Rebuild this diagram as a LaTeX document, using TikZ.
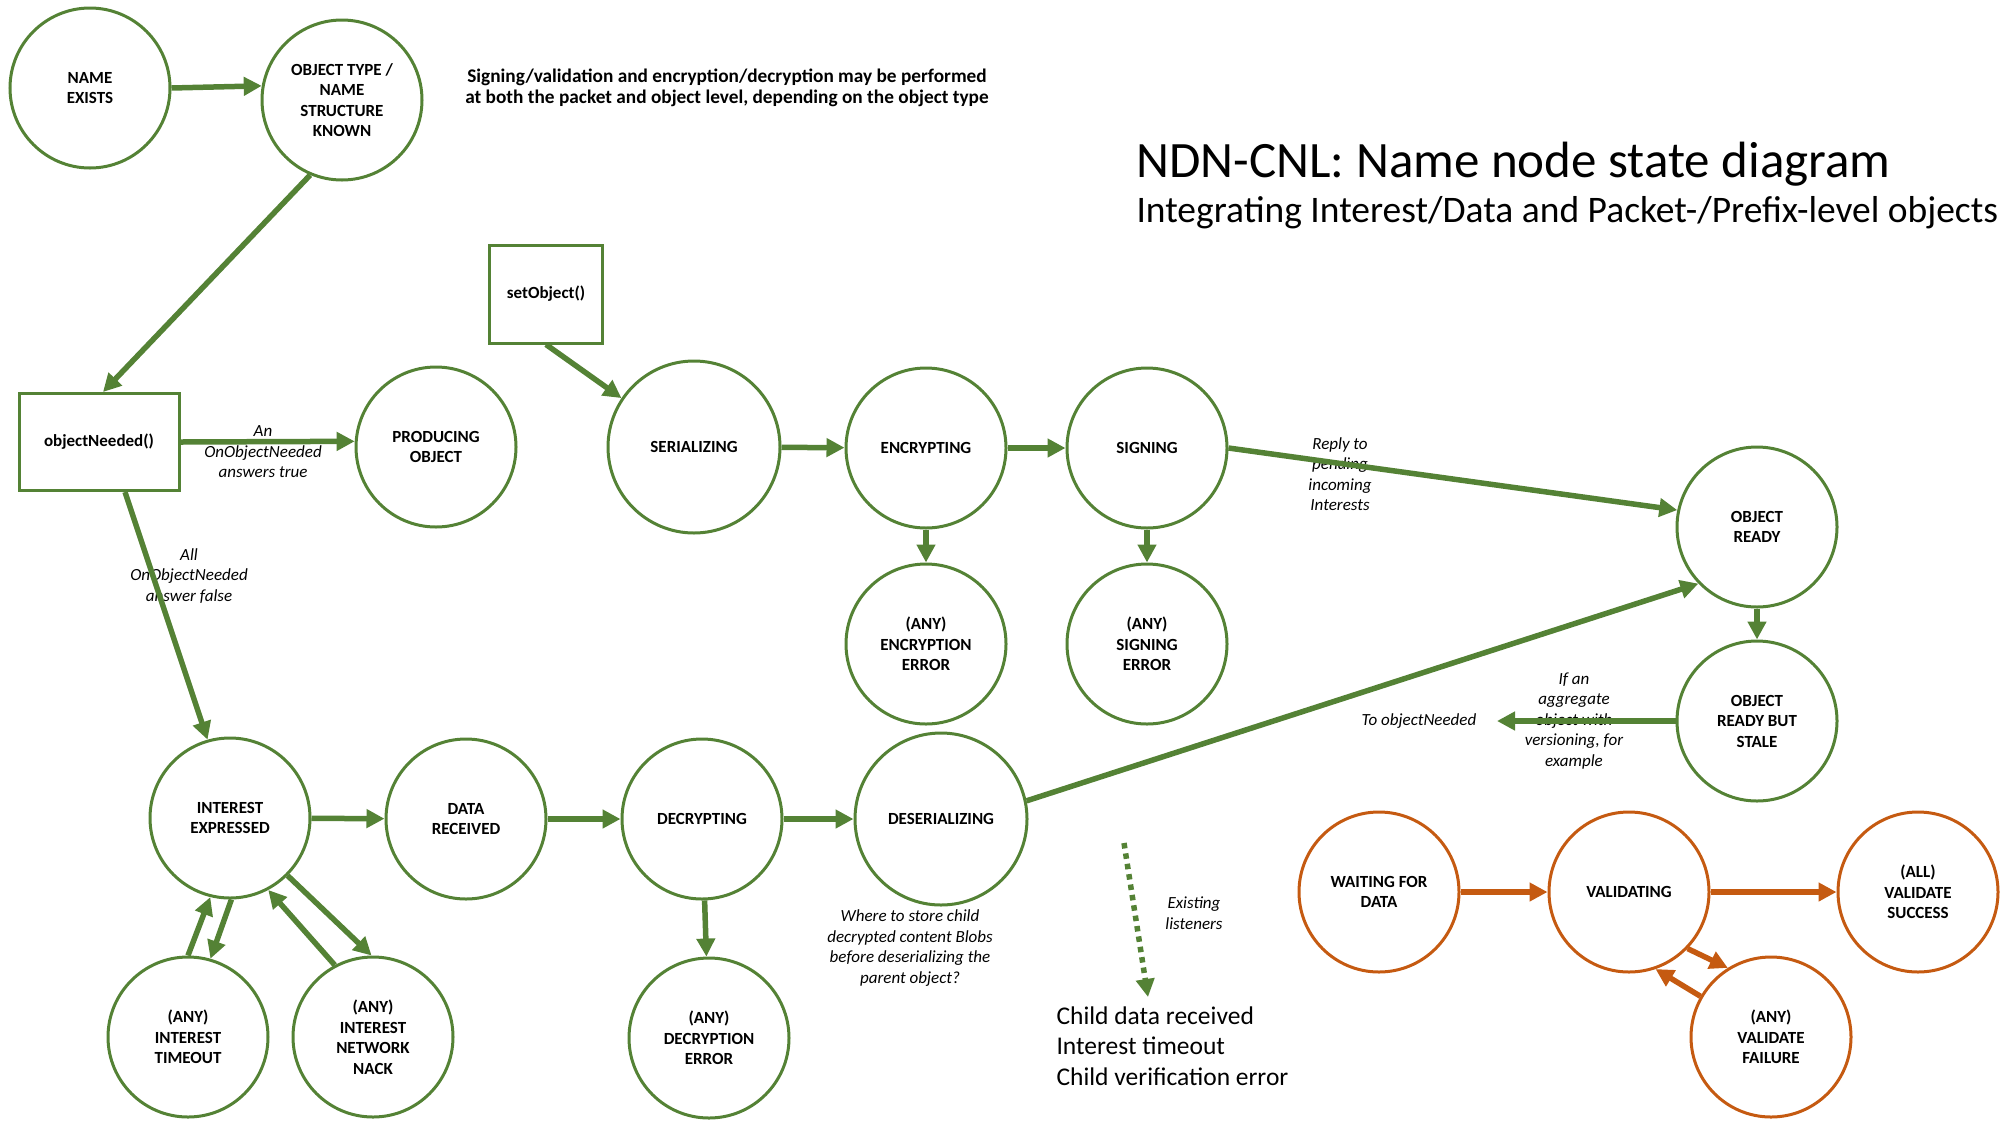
\documentclass[tikz,border=0pt]{standalone}
\usepackage{fontspec}
\setmainfont{Carlito}
\usetikzlibrary{arrows.meta}
\definecolor{grn}{HTML}{548235}
\definecolor{org}{HTML}{C55A11}
\tikzset{
  st/.style={circle, draw=grn, line width=3pt, minimum size=160pt, inner sep=0pt, align=center,
    font=\bfseries\fontsize{17}{20.5}\selectfont},
  bigst/.style={st, minimum size=172pt},
  ost/.style={st, draw=org},
  boxst/.style={rectangle, draw=grn, line width=3pt, inner sep=0pt, align=center,
    font=\bfseries\fontsize{17}{20}\selectfont},
  arr/.style={draw=grn, line width=5.5pt, -{Triangle[length=18pt,width=18pt]}},
  oarr/.style={arr, draw=org},
  darr/.style={arr, dash pattern=on 5.5pt off 5pt},
  lbl/.style={align=center, font=\itshape\fontsize{17}{20.5}\selectfont},
}
\begin{document}
\begin{tikzpicture}[x=1pt,y=-1pt]
\useasboundingbox (0,0) rectangle (2015,1120);

% states
\node[st] (ne) at (90,88) {NAME\\EXISTS};
\node[st] (ot) at (342,100) {OBJECT TYPE /\\NAME\\STRUCTURE\\KNOWN};
\node[boxst, minimum width=113pt, minimum height=98pt] (so) at (546,294) {setObject()};
\node[boxst, minimum width=160pt, minimum height=97pt] (on) at (99,442) {objectNeeded()};
\node[st] (po) at (436,447) {PRODUCING\\OBJECT};
\node[bigst] (ser) at (694,447) {SERIALIZING};
\node[st] (enc) at (926,448) {ENCRYPTING};
\node[st] (sig) at (1147,448) {SIGNING};
\node[st] (encerr) at (926,644) {(ANY)\\ENCRYPTION\\ERROR};
\node[st] (sigerr) at (1147,644) {(ANY)\\SIGNING\\ERROR};
\node[st] (or) at (1757,527) {OBJECT\\READY};
\node[st] (stale) at (1757,721) {OBJECT\\READY BUT\\STALE};
\node[st] (ie) at (230,818) {INTEREST\\EXPRESSED};
\node[st] (dr) at (466,819) {DATA\\RECEIVED};
\node[st] (dec) at (702,819) {DECRYPTING};
\node[bigst] (des) at (941,819) {DESERIALIZING};
\node[st] (to) at (188,1037) {(ANY)\\INTEREST\\TIMEOUT};
\node[st] (nack) at (373,1037) {(ANY)\\INTEREST\\NETWORK\\NACK};
\node[st] (decerr) at (709,1038) {(ANY)\\DECRYPTION\\ERROR};
\node[ost] (wfd) at (1379,892) {WAITING FOR\\DATA};
\node[ost] (val) at (1629,892) {VALIDATING};
\node[ost] (succ) at (1918,892) {(ALL)\\VALIDATE\\SUCCESS};
\node[ost] (fail) at (1771,1037) {(ANY)\\VALIDATE\\FAILURE};

% texts
\node[align=center, font=\bfseries\fontsize{19.3}{21.5}\selectfont] (note) at (727,88)
  {Signing/validation and encryption/decryption may be performed\\at both the packet and object level, depending on the object type};
\node[anchor=base west, font=\fontsize{51}{60}\selectfont] (title) at (1133,177) {NDN-CNL: Name node state diagram};
\node[anchor=base west, font=\fontsize{37.5}{44}\selectfont] (subtitle) at (1133,222) {Integrating Interest/Data and Packet-/Prefix-level objects};
\node[lbl] (l1) at (263,452) {An\\OnObjectNeeded\\answers true};
\node[lbl] (l2) at (189,576) {All\\OnObjectNeeded\\answer false};
\node[lbl] (l3) at (1340,474) {Reply to\\pending\\incoming\\Interests};
\node[lbl] (l4) at (1574,721) {If an\\aggregate\\object with\\versioning, for\\example};
\node[lbl] (l5) at (1419,721) {To objectNeeded};
\node[lbl] (l6) at (1194,913) {Existing\\listeners};
\node[lbl] (l7) at (910,948) {Where to store child\\decrypted content Blobs\\before deserializing the\\parent object?};
\node[anchor=west, align=left, font=\fontsize{25.5}{30.5}\selectfont] (child) at (1053,1046)
  {Child data received\\Interest timeout\\Child verification error};

% connectors
\draw[arr] (ne.east) -- (ot.170);
\draw[arr] (ot.247) -- ([xshift=4pt]on.north);
\draw[arr] (on.east) -- (po.176);
\draw[arr] ([xshift=26pt]on.south) -- (ie.106);
\draw[arr] (so.south) -- (ser.146);
\draw[arr] (ser) -- (enc);
\draw[arr] (enc) -- (sig);
\draw[arr] (enc) -- (encerr);
\draw[arr] (sig) -- (sigerr);
\draw[arr] (sig.east) -- (or.168);
\draw[arr] (or) -- (stale);
\coordinate (toon) at (1497,721);
\draw[arr] (stale.west) -- (toon);
\draw[arr] (des.12) -- (or.224);
\draw[arr] (ie) -- (dr);
\draw[arr] (dr) -- (dec);
\draw[arr] (dec) -- (des);
\draw[arr] (dec) -- (decerr);
\draw[arr] (to.90) -- (ie.256);
\draw[arr] (ie.271) -- (to.74);
\draw[arr] (ie.315) -- (nack.91);
\draw[arr] (nack.118) -- (ie.298);
\coordinate (dA) at (1124,843);
\coordinate (dB) at (1148,997);
\draw[darr] (dA) -- (dB);
\draw[oarr] (wfd) -- (val);
\draw[oarr] (val) -- (succ);
\draw[oarr] (val.316) -- (fail.122);
\draw[oarr] (fail.150) -- (val.289);
\end{tikzpicture}
\end{document}
